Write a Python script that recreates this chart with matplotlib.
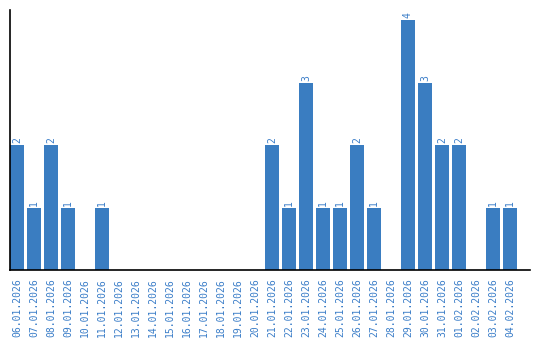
import matplotlib
matplotlib.use('Agg')
import matplotlib.pyplot as plt

dates = ['06.01.2026', '07.01.2026', '08.01.2026', '09.01.2026', '10.01.2026',
         '11.01.2026', '12.01.2026', '13.01.2026', '14.01.2026', '15.01.2026',
         '16.01.2026', '17.01.2026', '18.01.2026', '19.01.2026', '20.01.2026',
         '21.01.2026', '22.01.2026', '23.01.2026', '24.01.2026', '25.01.2026',
         '26.01.2026', '27.01.2026', '28.01.2026', '29.01.2026', '30.01.2026',
         '31.01.2026', '01.02.2026', '02.02.2026', '03.02.2026', '04.02.2026']
counts = [2, 1, 2, 1, 0, 1, 0, 0, 0, 0, 0, 0, 0, 0, 0,
          2, 1, 3, 1, 1, 2, 1, 0, 4, 3, 2, 2, 0, 1, 1]

bar_color = '#3a7dc1'
text_color = '#3a7dc8'

fig = plt.figure(figsize=(5.4, 3.4), dpi=100)
ax = fig.add_axes([10 / 540, 70 / 340, 520 / 540, 260 / 340])

x = list(range(len(dates)))
ax.bar(x, counts, width=0.82, color=bar_color)

for xi, c in zip(x, counts):
    if c > 0:
        ax.text(xi, c + 0.03, str(c), rotation=90, ha='center', va='bottom',
                color=text_color, fontsize=7, family='DejaVu Sans Mono')

ax.set_xlim(-0.41, 30.18)
ax.set_ylim(0, 4.16)
ax.set_xticks(x)
ax.set_xticklabels(dates, rotation=90, color=text_color, fontsize=7,
                   family='DejaVu Sans Mono')
ax.tick_params(axis='x', length=0, pad=6)
ax.set_yticks([])
ax.spines['top'].set_visible(False)
ax.spines['right'].set_visible(False)
ax.spines['left'].set_linewidth(1.2)
ax.spines['bottom'].set_linewidth(1.2)

plt.savefig('out.png')
